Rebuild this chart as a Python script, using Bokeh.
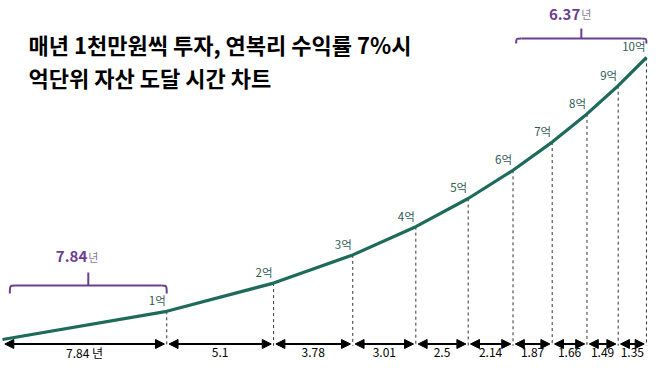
from bokeh.plotting import figure
from bokeh.models import Range1d, Arrow, NormalHead, Label, ColumnDataSource
from bokeh.core.properties import value
from bokeh.embed import file_html
from bokeh.resources import INLINE

# ---------------- data ----------------
intervals = [7.84, 5.1, 3.78, 3.01, 2.5, 2.14, 1.87, 1.66, 1.49, 1.35]
interval_labels = ["7.84 년", "5.1", "3.78", "3.01", "2.5", "2.14", "1.87", "1.66", "1.49", "1.35"]
amounts = [0, 1, 2, 3, 4, 5, 6, 7, 8, 9, 10]          # 억 won
milestone_labels = ["1억", "2억", "3억", "4억", "5억", "6억", "7억", "8억", "9억", "10억"]
bracket_spans = [(0, 1), (6, 10)]                     # milestone index ranges
bracket_labels = ["7.84", "6.37"]
bracket_units = [" 년", "년"]
title_lines = ["매년 1천만원씩 투자, 연복리 수익률 7%시", "억단위 자산 도달 시간 차트"]

times = [0.0]
for d in intervals:
    times.append(round(times[-1] + d, 2))

# ---------------- styles ----------------
FONT = value("Noto Sans CJK KR")
CURVE = "#1e6b5c"
LABEL = "#2f5a55"
PURPLE = "#6b3f8f"
UNIT = "#8a7a9a"
ARROW_Y = -0.16
TEXT_Y = -0.47
GAP = 0.11
bracket_style = [  # (horizontal y, end y, tick top y, text y, left inset)
    (1.915, 1.63, 2.376, 2.94, 0.35),
    (10.674, 10.496, 11.03, 11.525, 0.15),
]

p = figure(width=651, height=361, output_backend="svg", toolbar_location=None,
           x_range=Range1d(-0.0955, 30.98), y_range=Range1d(-0.78, 12.021),
           min_border=0)
p.axis.visible = False
p.grid.visible = False
p.outline_line_color = None
p.background_fill_color = "white"
p.border_fill_color = "white"

# dashed verticals
p.segment(x0=times[1:], y0=amounts[1:], x1=times[1:], y1=[ARROW_Y - 0.06] * 10,
          line_color="#333333", line_width=1, line_dash="3 3")

# curve
p.line(times, amounts, line_color=CURVE, line_width=3.2, line_join="round")

# milestone labels
p.text(x=times[1:], y=amounts[1:], text=milestone_labels, text_align="right",
       text_baseline="bottom", x_offset=-1, y_offset=-3, text_color=LABEL,
       text_font=FONT, text_font_size="11.5px")

# interval arrows
src = ColumnDataSource(dict(
    xs=[t + GAP for t in times[:-1]],
    xe=[t - GAP for t in times[1:]],
    ys=[ARROW_Y] * 10, ye=[ARROW_Y] * 10))
p.add_layout(Arrow(start=NormalHead(size=9, fill_color="black", line_color="black"),
                   end=NormalHead(size=9, fill_color="black", line_color="black"),
                   x_start="xs", y_start="ys", x_end="xe", y_end="ye",
                   line_color="black", line_width=2, source=src))
mids = [(a + b) / 2 for a, b in zip(times[:-1], times[1:])]
p.text(x=mids, y=[TEXT_Y] * 10, text=interval_labels, text_align="center",
       text_baseline="middle", text_color="black", text_font=FONT,
       text_font_size="12px")

# brackets
for (i0, i1), lab, unit, (yh, ye, yt, ytx, inset) in zip(bracket_spans, bracket_labels,
                                                        bracket_units, bracket_style):
    x0 = times[i0] + inset
    x1 = times[i1]
    dx = 0.25
    xm = (x0 + x1) / 2
    p.bezier(x0=[x0, x1], y0=[ye, ye], x1=[x0 + dx, x1 - dx], y1=[yh, yh],
             cx0=[x0, x1], cy0=[yh, yh], cx1=[x0, x1], cy1=[yh, yh],
             line_color=PURPLE, line_width=2)
    p.segment(x0=[x0 + dx, xm], y0=[yh, yh], x1=[x1 - dx, xm], y1=[yh, yt],
              line_color=PURPLE, line_width=2)
    p.text(x=[xm], y=[ytx], text=[lab], text_align="right", text_baseline="middle",
           x_offset=-1, text_color=PURPLE, text_font=FONT, text_font_size="15px",
           text_font_style="bold")
    p.text(x=[xm], y=[ytx], text=[unit], text_align="left", text_baseline="middle",
           x_offset=0, y_offset=0, text_color=UNIT, text_font=FONT,
           text_font_size="11px")

# title
for i, line in enumerate(title_lines):
    p.add_layout(Label(x=28, y=318 - 33 * i, x_units="screen", y_units="screen",
                       text=line, text_baseline="middle", text_color="black",
                       text_font="Noto Sans CJK KR", text_font_size="22px",
                       text_font_style="bold"))

open("out.html", "w").write(file_html(p, INLINE))
